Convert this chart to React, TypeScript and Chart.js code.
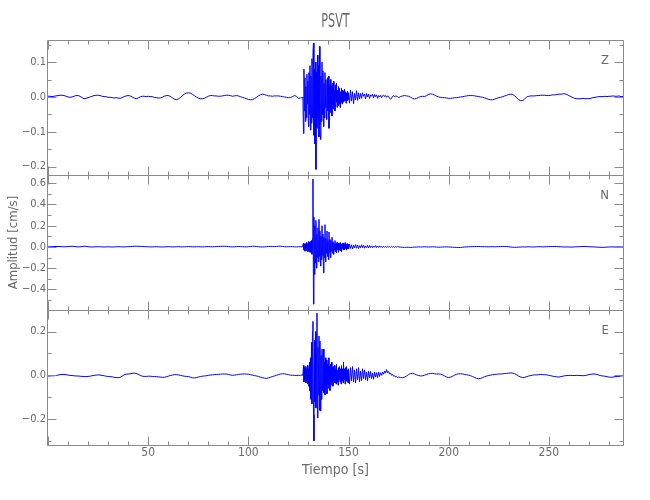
import React, { useEffect, useRef } from 'react';
import { Chart, registerables } from 'chart.js';

Chart.register(...registerables);

// ---------- text ----------
const TITLE = 'PSVT';
const X_LABEL = 'Tiempo [s]';
const Y_LABEL = 'Amplitud [cm/s]';
const COMPONENTS = ['Z', 'N', 'E'];

// ---------- axes ----------
const X_MIN = 0;
const X_MAX = 287;
const X_MAJOR = 50;
const X_MINOR = 10;
const Y_RANGES = [
  [-0.224, 0.1635],
  [-0.595, 0.678],
  [-0.319, 0.299],
];
const Y_MAJOR = [0.1, 0.2, 0.2];
const Y_MINOR = [0.05, 0.1, 0.1];

// ---------- sample times of each record segment ----------
const PRE_T0 = 0, PRE_DT = 1;
const EVENT_T0 = 127.25, EVENT_DT = 0.25;
const CODA_T0 = 150.5, CODA_DT = 0.5;
const POST_T0 = 176, POST_DT = 1;

// ---------- Z component (cm/s) ----------
const Z_PRE = [
  0.002, 0.002, 0.001, 0.002, 0.003, 0.004, 0.005, 0.005, 0.004, 0.002,
  0.000, -0.001, 0.000, 0.002, 0.004, 0.004, 0.002, -0.002, -0.005, -0.004,
  -0.002, 0.000, 0.002, 0.004, 0.005, 0.005, 0.004, 0.002, 0.001, 0.001,
  -0.001, -0.001, -0.002, -0.003, -0.002, -0.003, -0.004, -0.002, 0.001, 0.003,
  0.004, 0.003, 0.000, -0.003, -0.005, -0.003, 0.000, 0.002, 0.002, 0.001,
  0.002, 0.001, 0.001, -0.001, -0.002, -0.003, -0.003, -0.001, 0.002, 0.004,
  0.004, 0.002, -0.002, -0.006, -0.008, -0.006, -0.002, 0.003, 0.008, 0.011,
  0.012, 0.011, 0.008, 0.004, 0.000, -0.003, -0.005, -0.005, -0.004, -0.001,
  0.002, 0.004, 0.004, 0.003, 0.003, 0.002, 0.002, 0.003, 0.004, 0.005,
  0.005, 0.004, 0.002, 0.003, 0.004, 0.003, 0.001, -0.001, -0.003, -0.005,
  -0.007, -0.008, -0.008, -0.005, -0.001, 0.003, 0.006, 0.008, 0.007, 0.005,
  0.003, 0.003, 0.002, 0.003, 0.003, 0.003, 0.002, 0.001, 0.000, -0.001,
  -0.002, -0.002, 0.001, 0.004, 0.002, -0.004, -0.003, -0.002,
];
const Z_EVENT = [
  0.000, -0.105, 0.080, -0.040, 0.055, -0.070, 0.030, -0.060,
  0.065, -0.020, 0.045, -0.085, 0.070, -0.050, 0.090, -0.095,
  0.060, -0.075, 0.110, -0.060, 0.125, 0.155, -0.110, 0.080,
  -0.135, 0.100, -0.208, 0.070, -0.090, 0.120, -0.060, 0.090,
  -0.115, 0.145, -0.080, -0.122, 0.060, -0.070, 0.100, -0.050,
  0.075, -0.085, 0.040, -0.060, 0.070, -0.030, 0.050, -0.065,
  0.030, 0.055, -0.040, 0.060, -0.090, 0.035, -0.030, 0.050,
  -0.045, 0.030, -0.055, 0.040, -0.020, 0.045, -0.035, 0.020,
  -0.040, 0.035, -0.015, 0.040, -0.030, 0.020, -0.025, 0.030,
  -0.020, 0.025, -0.030, 0.015, -0.015, 0.025, -0.020, 0.020,
  -0.015, 0.018, -0.012, 0.022, -0.010, 0.015, -0.018, 0.012,
  -0.010, 0.016, -0.008, 0.012,
];
const Z_CODA = [
  -0.018, 0.020, -0.012, 0.015, -0.020, 0.010, -0.008, 0.018, -0.010, 0.012,
  -0.006, 0.010, -0.004, 0.012, 0.002, 0.008, -0.006, 0.010, 0.000, 0.008,
  -0.004, 0.006, 0.002, 0.008, -0.003, 0.007, 0.001, 0.006, -0.004, 0.004,
  0.000, 0.005, -0.002, 0.003, 0.006, 0.001, 0.004, -0.001, 0.003, 0.002,
  -0.004, -0.007, -0.003, 0.002, 0.004, 0.000, 0.003, 0.002, 0.001, -0.002,
];
const Z_POST = [
  0.001, 0.003, 0.004, 0.003, 0.002, -0.001, -0.004, -0.006, -0.004, -0.001,
  0.001, 0.002, 0.001, 0.004, 0.007, 0.009, 0.008, 0.005, 0.002, 0.000,
  -0.001, -0.002, -0.002, -0.003, -0.004, -0.004, -0.003, -0.002, -0.002, -0.001,
  0.000, 0.001, 0.002, 0.003, 0.004, 0.004, 0.004, 0.003, 0.002, 0.001,
  0.000, -0.001, -0.003, -0.005, -0.007, -0.008, -0.008, -0.006, -0.004, -0.002,
  -0.001, 0.001, 0.003, 0.005, 0.007, 0.008, 0.007, 0.003, -0.003, -0.008,
  -0.011, -0.010, -0.005, 0.000, 0.002, 0.003, 0.003, 0.003, 0.004, 0.004,
  0.005, 0.005, 0.005, 0.004, 0.004, 0.005, 0.006, 0.006, 0.007, 0.008,
  0.008, 0.009, 0.009, 0.007, 0.004, 0.001, -0.002, -0.004, -0.005, -0.005,
  -0.005, -0.004, -0.005, -0.005, -0.005, -0.004, -0.002, -0.001, 0.000, 0.001,
  0.001, 0.001, 0.002, 0.001, 0.002, 0.002, 0.003, 0.002, 0.002, 0.003,
  0.001, 0.001,
];

// ---------- N component (cm/s) ----------
const N_PRE = [
  0.000, 0.001, 0.002, 0.003, 0.004, 0.004, 0.003, 0.002, 0.001, 0.002,
  0.003, 0.005, 0.006, 0.004, 0.002, 0.000, 0.001, 0.003, 0.006, 0.005,
  0.002, 0.000, -0.001, 0.000, 0.001, 0.002, 0.001, 0.000, -0.001, 0.000,
  0.001, 0.000, -0.001, 0.000, 0.001, 0.002, 0.001, 0.000, 0.000, 0.001,
  0.002, 0.003, 0.004, 0.005, 0.006, 0.006, 0.005, 0.004, 0.003, 0.002,
  0.001, 0.000, 0.000, 0.001, 0.002, 0.001, 0.000, -0.001, 0.000, 0.001,
  0.002, 0.001, 0.000, 0.000, 0.001, 0.002, 0.001, 0.000, 0.001, 0.002,
  0.003, 0.002, 0.001, 0.000, 0.001, 0.002, 0.001, 0.000, 0.001, 0.002,
  0.003, 0.002, 0.001, 0.002, 0.003, 0.004, 0.005, 0.006, 0.006, 0.005,
  0.003, 0.001, 0.000, 0.001, 0.003, 0.004, 0.003, 0.002, 0.001, 0.000,
  0.002, 0.004, 0.006, 0.006, 0.004, 0.002, 0.000, -0.001, 0.000, 0.002,
  0.004, 0.005, 0.004, 0.003, 0.004, 0.006, 0.006, 0.004, 0.002, 0.001,
  0.002, 0.003, 0.002, 0.001, 0.000, 0.001, 0.002, 0.000,
];
const N_EVENT = [
  0.000, 0.035, -0.030, 0.025, -0.040, 0.030, -0.020, 0.040,
  -0.035, 0.025, -0.045, 0.050, -0.030, 0.045, -0.050, 0.050,
  -0.050, 0.060, -0.070, 0.080, 0.640, -0.540, 0.280, -0.260,
  0.200, -0.150, 0.250, -0.200, 0.120, -0.100, 0.180, -0.140,
  0.260, -0.090, 0.150, -0.180, 0.100, -0.120, 0.200, -0.080,
  0.120, -0.245, 0.090, -0.100, 0.210, -0.140, 0.080, -0.060,
  0.150, -0.090, 0.060, -0.120, 0.140, -0.050, 0.070, -0.100,
  0.060, -0.040, 0.090, -0.060, 0.050, -0.070, 0.040, -0.030,
  0.060, -0.045, 0.030, -0.055, 0.045, -0.025, 0.035, -0.050,
  0.030, -0.030, 0.040, -0.035, 0.025, -0.045, 0.030, -0.020,
  0.035, -0.030, 0.020, -0.025, 0.040, -0.020, 0.025, -0.030,
  0.030, -0.015, 0.025, -0.020,
];
const N_CODA = [
  0.025, -0.015, 0.020, -0.020, 0.015, -0.010, 0.022, -0.012, 0.018, -0.015,
  0.012, -0.010, 0.020, -0.008, 0.015, -0.012, 0.010, -0.006, 0.014, -0.010,
  0.012, -0.006, 0.010, -0.008, 0.009, -0.004, 0.012, -0.006, 0.008, -0.005,
  0.010, -0.003, 0.006, -0.006, 0.007, -0.004, 0.005, -0.005, 0.006, -0.003,
  0.004, -0.004, 0.005, -0.002, 0.003, -0.004, 0.004, -0.002, 0.003, 0.000,
];
const N_POST = [
  -0.002, -0.004, -0.005, -0.003, -0.004, -0.005, -0.003, -0.002, -0.001, 0.000,
  -0.001, 0.000, 0.001, 0.000, -0.001, 0.000, 0.001, 0.000, -0.002, -0.003,
  -0.002, -0.001, 0.000, 0.000, -0.001, -0.002, -0.003, -0.004, -0.005, -0.006,
  -0.005, -0.003, -0.001, 0.000, 0.001, 0.002, 0.003, 0.003, 0.004, 0.004,
  0.003, 0.002, 0.002, 0.001, 0.001, 0.002, 0.002, 0.001, 0.002, 0.003,
  0.003, 0.004, 0.004, 0.003, 0.001, -0.001, -0.003, -0.004, -0.003, -0.002,
  -0.001, 0.000, -0.001, 0.000, 0.001, 0.000, -0.001, 0.000, 0.001, 0.002,
  0.001, 0.000, 0.001, 0.002, 0.003, 0.003, 0.004, 0.004, 0.003, 0.002,
  0.001, 0.000, -0.001, 0.000, -0.001, -0.002, -0.001, 0.000, 0.001, 0.002,
  0.003, 0.004, 0.004, 0.003, 0.002, 0.001, 0.000, -0.001, -0.002, -0.003,
  -0.004, -0.004, -0.003, -0.002, -0.001, 0.000, 0.000, -0.001, 0.000, 0.000,
  -0.001, 0.000,
];

// ---------- E component (cm/s) ----------
const E_PRE = [
  -0.003, -0.003, -0.002, -0.002, -0.001, 0.001, 0.003, 0.004, 0.004, 0.003,
  0.001, 0.000, -0.001, -0.002, -0.003, -0.003, -0.004, -0.005, -0.005, -0.006,
  -0.005, -0.004, -0.002, 0.000, 0.001, 0.002, 0.001, 0.000, -0.002, -0.004,
  -0.005, -0.006, -0.007, -0.009, -0.010, -0.011, -0.009, -0.004, 0.002, 0.005,
  0.006, 0.007, 0.009, 0.010, 0.009, 0.005, 0.000, -0.004, -0.005, -0.005,
  -0.004, -0.004, -0.005, -0.006, -0.006, -0.007, -0.008, -0.009, -0.009, -0.007,
  -0.004, -0.001, 0.001, 0.003, 0.003, 0.002, 0.000, -0.002, -0.004, -0.005,
  -0.006, -0.008, -0.011, -0.012, -0.011, -0.008, -0.006, -0.004, -0.003, -0.002,
  0.000, 0.001, 0.002, 0.003, 0.004, 0.004, 0.005, 0.006, 0.006, 0.006,
  0.004, 0.002, 0.000, 0.001, 0.002, 0.004, 0.005, 0.006, 0.006, 0.006,
  0.005, 0.003, 0.001, -0.001, -0.003, -0.005, -0.008, -0.011, -0.013, -0.014,
  -0.012, -0.009, -0.006, -0.003, 0.000, 0.003, 0.006, 0.007, 0.007, 0.005,
  0.003, 0.001, 0.000, 0.000, -0.001, 0.000, 0.000, 0.002,
];
const E_EVENT = [
  0.000, 0.045, -0.030, 0.035, -0.025, 0.040, -0.035, 0.030,
  -0.020, 0.045, -0.040, 0.030, -0.050, 0.060, -0.070, 0.080,
  -0.110, 0.150, -0.130, 0.200, 0.247, -0.180, -0.300, 0.160,
  -0.120, 0.200, -0.150, 0.100, 0.285, -0.195, 0.130, -0.090,
  0.180, -0.160, 0.157, -0.163, 0.090, -0.110, 0.120, -0.070,
  0.100, 0.120, -0.080, 0.060, -0.090, 0.080, -0.050, 0.070,
  -0.085, 0.050, -0.040, 0.080, -0.060, 0.040, -0.070, 0.050,
  -0.030, 0.060, -0.045, 0.035, -0.050, 0.040, -0.025, 0.045,
  -0.035, 0.030, -0.040, 0.050, -0.030, 0.025, -0.045, 0.035,
  -0.020, 0.040, -0.030, 0.030, -0.040, 0.045, -0.025, 0.030,
  -0.035, 0.060, -0.020, 0.030, -0.040, 0.035, -0.025, 0.040,
  -0.030, 0.025, -0.035, 0.030,
];
const E_CODA = [
  -0.040, 0.035, -0.025, 0.040, -0.030, 0.025, -0.035, 0.030, -0.020, 0.035,
  -0.030, 0.020, -0.025, 0.030, -0.015, 0.025, -0.020, 0.015, -0.025, 0.020,
  -0.012, 0.018, -0.015, 0.010, -0.018, 0.015, -0.008, 0.012, -0.010, 0.015,
  -0.005, 0.012, 0.000, 0.015, 0.005, 0.020, 0.010, 0.026, 0.012, 0.018,
  0.006, 0.010, 0.000, 0.004, -0.004, -0.002, -0.008, -0.006, -0.010, -0.008,
];
const E_POST = [
  -0.010, -0.011, -0.008, -0.003, 0.004, 0.008, 0.009, 0.006, 0.002, -0.001,
  -0.003, -0.002, 0.001, 0.004, 0.007, 0.009, 0.009, 0.007, 0.006, 0.006,
  0.005, 0.002, -0.003, -0.008, -0.010, -0.008, -0.004, 0.001, 0.005, 0.007,
  0.007, 0.006, 0.004, 0.002, 0.001, -0.002, -0.006, -0.010, -0.014, -0.016,
  -0.014, -0.010, -0.006, -0.003, -0.001, 0.001, 0.003, 0.004, 0.005, 0.006,
  0.006, 0.007, 0.008, 0.009, 0.010, 0.011, 0.010, 0.007, 0.002, -0.004,
  -0.008, -0.010, -0.009, -0.006, -0.003, -0.001, 0.001, 0.002, 0.002, 0.003,
  0.004, 0.003, 0.003, 0.002, 0.000, -0.002, -0.004, -0.006, -0.007, -0.008,
  -0.006, -0.004, -0.002, -0.001, -0.001, 0.000, -0.001, -0.001, 0.000, -0.001,
  -0.001, -0.002, -0.001, 0.001, 0.003, 0.005, 0.006, 0.006, 0.004, 0.001,
  -0.002, -0.003, -0.004, -0.006, -0.008, -0.009, -0.008, -0.006, -0.005, -0.005,
  -0.003, -0.002,
];

// ---------- styles ----------
const FONT = "'Liberation Sans Narrow', 'DejaVu Sans Condensed', 'Liberation Sans', Arial, sans-serif";
const TEXT_COLOR = '#6a6a6a';
const FRAME_COLOR = '#8a8a8a';
const LINE_COLOR = 'rgb(0, 0, 255)';

type Pt = { x: number; y: number };

function segment(t0: number, dt: number, vals: number[]): Pt[] {
  return vals.map((v, i) => ({ x: t0 + i * dt, y: v }));
}

function record(pre: number[], ev: number[], coda: number[], post: number[]): Pt[] {
  return [
    ...segment(PRE_T0, PRE_DT, pre),
    ...segment(EVENT_T0, EVENT_DT, ev),
    ...segment(CODA_T0, CODA_DT, coda),
    ...segment(POST_T0, POST_DT, post),
  ];
}

const SERIES = [
  record(Z_PRE, Z_EVENT, Z_CODA, Z_POST),
  record(N_PRE, N_EVENT, N_CODA, N_POST),
  record(E_PRE, E_EVENT, E_CODA, E_POST),
];
const AXIS_IDS = ['yZ', 'yN', 'yE'];

function fmtY(v: number): string {
  const s = Math.abs(v) < 1e-9 ? '0.0' : v.toFixed(1);
  return s.replace('-', '\u2212');
}

const framePlugin = {
  id: 'seisFrame',
  afterDatasetsDraw(chart: any) {
    const { ctx, chartArea } = chart;
    const xs = chart.scales.x;
    const L = Math.round(chartArea.left) - 0.5;
    const R = Math.round(chartArea.right) + 0.5;
    ctx.save();
    ctx.strokeStyle = FRAME_COLOR;
    ctx.lineWidth = 1;
    ctx.beginPath();
    AXIS_IDS.forEach((id, p) => {
      const ys = chart.scales[id];
      const T = Math.round(ys.top) + 0.5;
      const B = Math.round(ys.bottom) + 0.5;
      ctx.moveTo(L, T); ctx.lineTo(R, T); ctx.lineTo(R, B); ctx.lineTo(L, B); ctx.closePath();
      const majors: number[] = ys.ticks.map((t: any) => t.value);
      const step = Y_MINOR[p];
      const k0 = Math.ceil(ys.min / step - 1e-9);
      const k1 = Math.floor(ys.max / step + 1e-9);
      for (let k = k0; k <= k1; k++) {
        const v = k * step;
        const isMajor = majors.some((m) => Math.abs(m - v) < 1e-6);
        const len = isMajor ? 9 : 4;
        const y = Math.round(ys.getPixelForValue(v)) + 0.5;
        ctx.moveTo(L, y); ctx.lineTo(L + len, y);
        ctx.moveTo(R, y); ctx.lineTo(R - len, y);
      }
      for (let t = X_MIN; t <= X_MAX + 1e-9; t += X_MINOR) {
        const len = t % X_MAJOR === 0 ? 9 : 4;
        const x = Math.round(xs.getPixelForValue(t)) + 0.5;
        ctx.moveTo(x, T); ctx.lineTo(x, T + len);
        ctx.moveTo(x, B); ctx.lineTo(x, B - len);
      }
    });
    ctx.stroke();

    ctx.fillStyle = TEXT_COLOR;
    ctx.textAlign = 'right';
    ctx.textBaseline = 'middle';
    ctx.font = `13px ${FONT}`;
    AXIS_IDS.forEach((id, p) => {
      const ys = chart.scales[id];
      ctx.fillText(COMPONENTS[p], Math.round(chartArea.right) - 14, ys.top + 21);
    });

    // title, drawn slightly condensed like the original plotting font
    ctx.save();
    ctx.translate((chartArea.left + chartArea.right) / 2, 22);
    ctx.scale(0.62, 1);
    ctx.textAlign = 'center';
    ctx.font = `20px ${FONT}`;
    ctx.fillText(TITLE, 0, 0);
    ctx.restore();
    ctx.restore();
  },
};

function yScale(p: number, withTitle: boolean) {
  return {
    type: 'linear',
    position: 'left',
    stack: 'psvt',
    stackWeight: 1,
    weight: 3 - p,
    min: Y_RANGES[p][0],
    max: Y_RANGES[p][1],
    grid: { display: false, drawTicks: false },
    border: { display: false },
    ticks: {
      stepSize: Y_MAJOR[p],
      includeBounds: false,
      autoSkip: false,
      padding: 2,
      color: TEXT_COLOR,
      font: { family: FONT, size: 11 },
      callback: (v: any) => fmtY(Number(v)),
    },
    title: {
      display: withTitle,
      text: Y_LABEL,
      color: TEXT_COLOR,
      font: { family: FONT, size: 13 },
      padding: { top: 6, bottom: 0 },
    },
    afterFit: (s: any) => { s.width = 48; },
  };
}

export default function App() {
  const ref = useRef<HTMLCanvasElement | null>(null);

  useEffect(() => {
    if (!ref.current) return;
    const chart = new Chart(ref.current, {
      type: 'line',
      data: {
        datasets: SERIES.map((data, p) => ({
          label: COMPONENTS[p],
          data,
          yAxisID: AXIS_IDS[p],
          borderColor: LINE_COLOR,
          borderWidth: 1,
          pointRadius: 0,
          tension: 0,
          fill: false,
        })),
      },
      options: {
        animation: false,
        responsive: false,
        events: [],
        parsing: false,
        normalized: true,
        layout: { padding: { top: 40, right: 27, bottom: 0, left: 0 } },
        plugins: {
          legend: { display: false },
          tooltip: { enabled: false },
          title: { display: false },
        },
        scales: {
          x: {
            type: 'linear',
            position: 'bottom',
            min: X_MIN,
            max: X_MAX,
            grid: { display: false, drawTicks: false },
            border: { display: false },
            ticks: {
              stepSize: X_MAJOR,
              includeBounds: false,
              autoSkip: false,
              maxRotation: 0,
              padding: 1,
              color: TEXT_COLOR,
              font: { family: FONT, size: 12 },
            },
            afterBuildTicks: (s: any) => { s.ticks = s.ticks.filter((t: any) => t.value > 0); },
            title: {
              display: true,
              text: X_LABEL,
              color: TEXT_COLOR,
              font: { family: FONT, size: 14 },
              padding: { top: 0, bottom: 21 },
            },
            afterFit: (s: any) => { s.height = 55; },
          },
          yZ: yScale(0, false),
          yN: yScale(1, true),
          yE: yScale(2, false),
        } as any,
      } as any,
      plugins: [framePlugin],
    });
    return () => chart.destroy();
  }, []);

  return (
    <div style={{ position: 'absolute', left: 0, top: 0, width: 650, height: 500, background: '#fff' }}>
      <canvas ref={ref} width={650} height={500} style={{ display: 'block', width: 650, height: 500 }} />
    </div>
  );
}
